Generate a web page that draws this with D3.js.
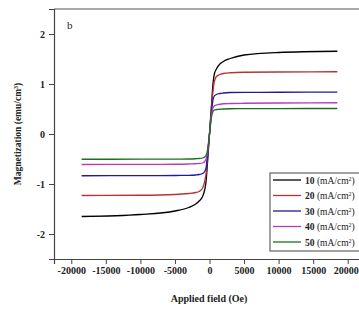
<!DOCTYPE html>
<html>
<head>
<meta charset="utf-8">
<script src="https://cdn.jsdelivr.net/npm/d3@7"></script>
<style>
    body { margin: 0; background: #fff; }
    svg { display: block; font-family: "Liberation Serif", "DejaVu Serif", serif; }
</style>
</head>
<body>
<div id="chart"><svg></svg></div>
<script>
// applied field (Oe), shared by all curves
let field = [-18500, -10000, -5000, -3000, -2000, -1500, -1000, -700, -500, -300, 0, 300, 500, 700, 1000, 1500, 2000, 3000, 5000, 10000, 18500];

let m10 = [-1.65, -1.61, -1.54, -1.47, -1.40, -1.34, -1.25, -1.12, -0.95, -0.6, 0, 0.6, 1.0, 1.2, 1.30, 1.40, 1.45, 1.51, 1.58, 1.63, 1.655];
let m20 = [-1.23, -1.225, -1.21, -1.19, -1.17, -1.15, -1.08, -0.95, -0.8, -0.5, 0, 0.55, 0.85, 1.05, 1.15, 1.19, 1.21, 1.225, 1.235, 1.24, 1.245];
let m30 = [-0.835, -0.833, -0.83, -0.828, -0.82, -0.81, -0.79, -0.75, -0.68, -0.45, 0, 0.45, 0.68, 0.76, 0.79, 0.81, 0.82, 0.83, 0.833, 0.835, 0.838];
let m40 = [-0.61, -0.608, -0.605, -0.60, -0.595, -0.59, -0.58, -0.55, -0.5, -0.38, 0, 0.4, 0.52, 0.56, 0.58, 0.595, 0.605, 0.61, 0.615, 0.62, 0.625];
let m50 = [-0.505, -0.504, -0.502, -0.5, -0.495, -0.49, -0.48, -0.46, -0.43, -0.33, 0, 0.35, 0.45, 0.48, 0.49, 0.495, 0.5, 0.505, 0.507, 0.509, 0.51];

let seriesNames = ["10", "20", "30", "40", "50"];
let seriesValues = [m10, m20, m30, m40, m50];
let seriesColors = ["#000000", "#b83232", "#1c1c9c", "#b43cc0", "#1f6e1f"];

let xTicks = [-20000, -15000, -10000, -5000, 0, 5000, 10000, 15000, 20000];
let yTicks = [-2, -1, 0, 1, 2];

let svg = d3.select("#chart svg").attr("width", 359).attr("height", 314);

let margin = {top: 9, right: -6, bottom: 55, left: 54};
let width = 359 - margin.left - margin.right;
let height = 314 - margin.top - margin.bottom;
let g = svg.append("g").attr("transform", "translate(" + margin.left + "," + margin.top + ")");

let x = d3.scaleLinear().domain([-22500, 22500]).range([0, width]);
let y = d3.scaleLinear().domain([-2.5, 2.5]).range([height, 0]);

// plain hyphen for negatives, like the original figure
let fmt = d => String(d);

// frame: top line only (right side is cut off)
g.append("line")
    .attr("x1", 0).attr("x2", width).attr("y1", 0).attr("y2", 0)
    .attr("stroke", "#555").attr("stroke-width", 1.2);

let line = d3.line()
    .x((d, i) => x(field[i]))
    .y(d => y(d))
    .curve(d3.curveMonotoneX);

g.append("g")
    .selectAll("path")
    .data(seriesValues)
    .enter().append("path")
    .attr("d", d => line(d))
    .attr("fill", "none")
    .attr("stroke", (d, i) => seriesColors[i])
    .attr("stroke-width", 1.3);

let xAxis = g.append("g")
    .attr("transform", "translate(0," + height + ")")
    .call(d3.axisBottom(x).tickValues(xTicks).tickSize(5).tickPadding(3).tickFormat(fmt));

let yAxis = g.append("g")
    .call(d3.axisLeft(y).tickValues(yTicks).tickSize(5).tickPadding(4).tickFormat(fmt));

[xAxis, yAxis].forEach(a => {
    a.select(".domain").attr("stroke", "#444").attr("stroke-width", 1.2);
    a.selectAll(".tick line").attr("stroke", "#444");
    a.selectAll("text")
        .attr("font-family", "Liberation Serif, serif")
        .attr("font-weight", "bold")
        .attr("font-size", 10)
        .attr("fill", "#222");
});

// last label sits right at the window edge; nudge it in
xAxis.selectAll(".tick text").filter(d => d === 20000).attr("dx", -2);

g.append("text")
    .attr("x", 13).attr("y", 20)
    .attr("font-size", 11)
    .attr("fill", "#222")
    .text("b");

svg.append("text")
    .attr("x", 209).attr("y", 302)
    .attr("text-anchor", "middle")
    .attr("font-weight", "bold")
    .attr("font-size", 10)
    .attr("fill", "#222")
    .text("Applied field (Oe)");

let yTitle = svg.append("text")
    .attr("transform", "translate(21,134) rotate(-90)")
    .attr("text-anchor", "middle")
    .attr("font-weight", "bold")
    .attr("font-size", 9.5)
    .attr("fill", "#222");
yTitle.append("tspan").text("Magnetization (emu/cm");
yTitle.append("tspan").attr("dy", -3).attr("font-size", 6).text("3");
yTitle.append("tspan").attr("dy", 3).text(")");

// legend
let legendBox = svg.append("g");
legendBox.append("rect")
    .attr("x", 270).attr("y", 173)
    .attr("width", 95).attr("height", 78)
    .attr("fill", "#fff")
    .attr("stroke", "#444")
    .attr("stroke-width", 1);

let legend = legendBox.selectAll(".item")
    .data(seriesNames)
    .enter().append("g")
    .attr("transform", (d, i) => "translate(0," + (180 + i * 15.5) + ")");

legend.append("line")
    .attr("x1", 273).attr("x2", 301)
    .attr("y1", 0).attr("y2", 0)
    .attr("stroke", (d, i) => seriesColors[i])
    .attr("stroke-width", 1.3);

let lt = legend.append("text")
    .attr("x", 305).attr("y", 3.5)
    .attr("font-size", 9.5)
    .attr("fill", "#222");
lt.append("tspan").attr("font-weight", "bold").text(d => d);
lt.append("tspan").text(" (mA/cm");
lt.append("tspan").attr("dy", -3).attr("font-size", 6).text("2");
lt.append("tspan").attr("dy", 3).text(")");
</script>
</body>
</html>
